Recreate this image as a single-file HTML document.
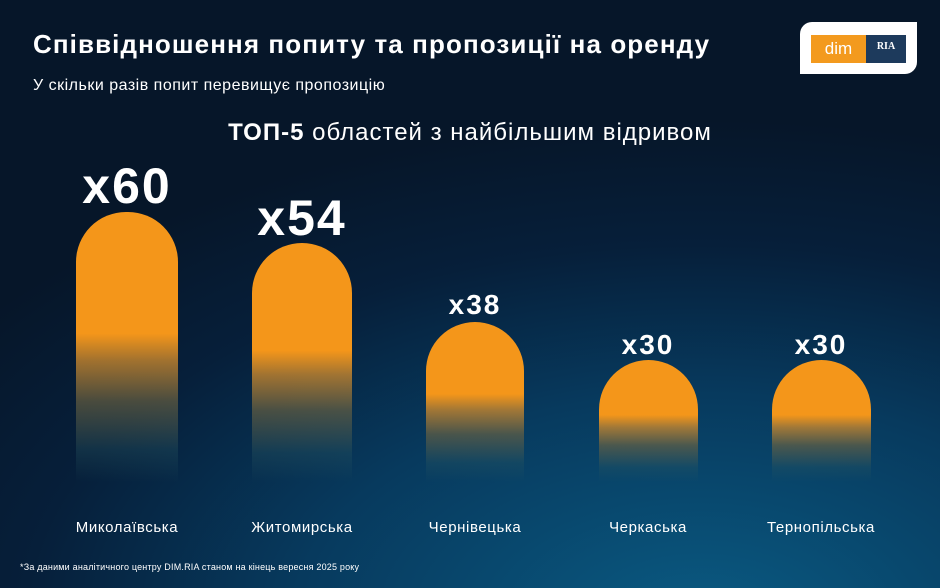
<!DOCTYPE html>
<html><head><meta charset="utf-8"><style>
body{margin:0;width:940px;height:588px;overflow:hidden;font-family:"Liberation Sans",sans-serif;color:#fff;
background:radial-gradient(ellipse 900px 500px at 700px 620px,#0a5a82 0%,#073a5e 45%,#061f3a 75%,#061629 100%);position:relative}
.a{position:absolute}
.bar{position:absolute;border-radius:50px 50px 0 0;bottom:106px;background:linear-gradient(to bottom,#f4961a 0%,#f4961a 45%,rgba(200,135,45,.8) 55%,rgba(110,100,65,.65) 70%,rgba(40,85,95,.35) 88%,rgba(10,70,110,0) 100%)}
.v{position:absolute;font-weight:bold;text-align:center;width:160px;letter-spacing:2px}
.l{position:absolute;top:519px;font-size:15px;text-align:center;width:180px;letter-spacing:.6px}
</style></head><body>
<div class="a" style="left:33px;top:29px;font-size:26px;font-weight:bold;letter-spacing:1.1px">Співвідношення попиту та пропозиції на оренду</div>
<div class="a" style="left:33px;top:77px;font-size:16px;letter-spacing:.5px">У скільки разів попит перевищує пропозицію</div>
<div class="a" style="left:0;width:940px;top:119px;text-align:center;font-size:24px;letter-spacing:1px"><b>ТОП-5</b> областей з найбільшим відривом</div>
<div class="a" style="left:800px;top:22px;width:117px;height:52px;background:#fff;border-radius:12px 0 12px 0"></div>
<div class="a" style="left:811px;top:35px;width:55px;height:28px;background:#f39a1e;font-size:17px;line-height:28px;text-align:center">dim</div>
<div class="a" style="left:866px;top:35px;width:40px;height:28px;background:#1d3a5c;font-size:10px;font-weight:bold;line-height:24px;text-align:center;font-family:'Liberation Serif',serif">RIA</div>
<div class="bar" style="left:76px;width:102px;height:270px"></div>
<div class="bar" style="left:252px;width:100px;height:239px"></div>
<div class="bar" style="left:426px;width:98px;height:160px"></div>
<div class="bar" style="left:599px;width:99px;height:122px"></div>
<div class="bar" style="left:772px;width:99px;height:122px"></div>
<div class="v" style="left:47px;top:157px;font-size:50px">x60</div>
<div class="v" style="left:222px;top:189px;font-size:50px">x54</div>
<div class="v" style="left:395px;top:289px;font-size:28px">x38</div>
<div class="v" style="left:568px;top:329px;font-size:28px">x30</div>
<div class="v" style="left:741px;top:329px;font-size:28px">x30</div>
<div class="l" style="left:37px">Миколаївська</div>
<div class="l" style="left:212px">Житомирська</div>
<div class="l" style="left:385px">Чернівецька</div>
<div class="l" style="left:558px">Черкаська</div>
<div class="l" style="left:731px">Тернопільська</div>
<div class="a" style="left:20px;top:562px;font-size:9px;letter-spacing:.2px">*За даними аналітичного центру DIM.RIA станом на кінець вересня 2025 року</div>
</body></html>
